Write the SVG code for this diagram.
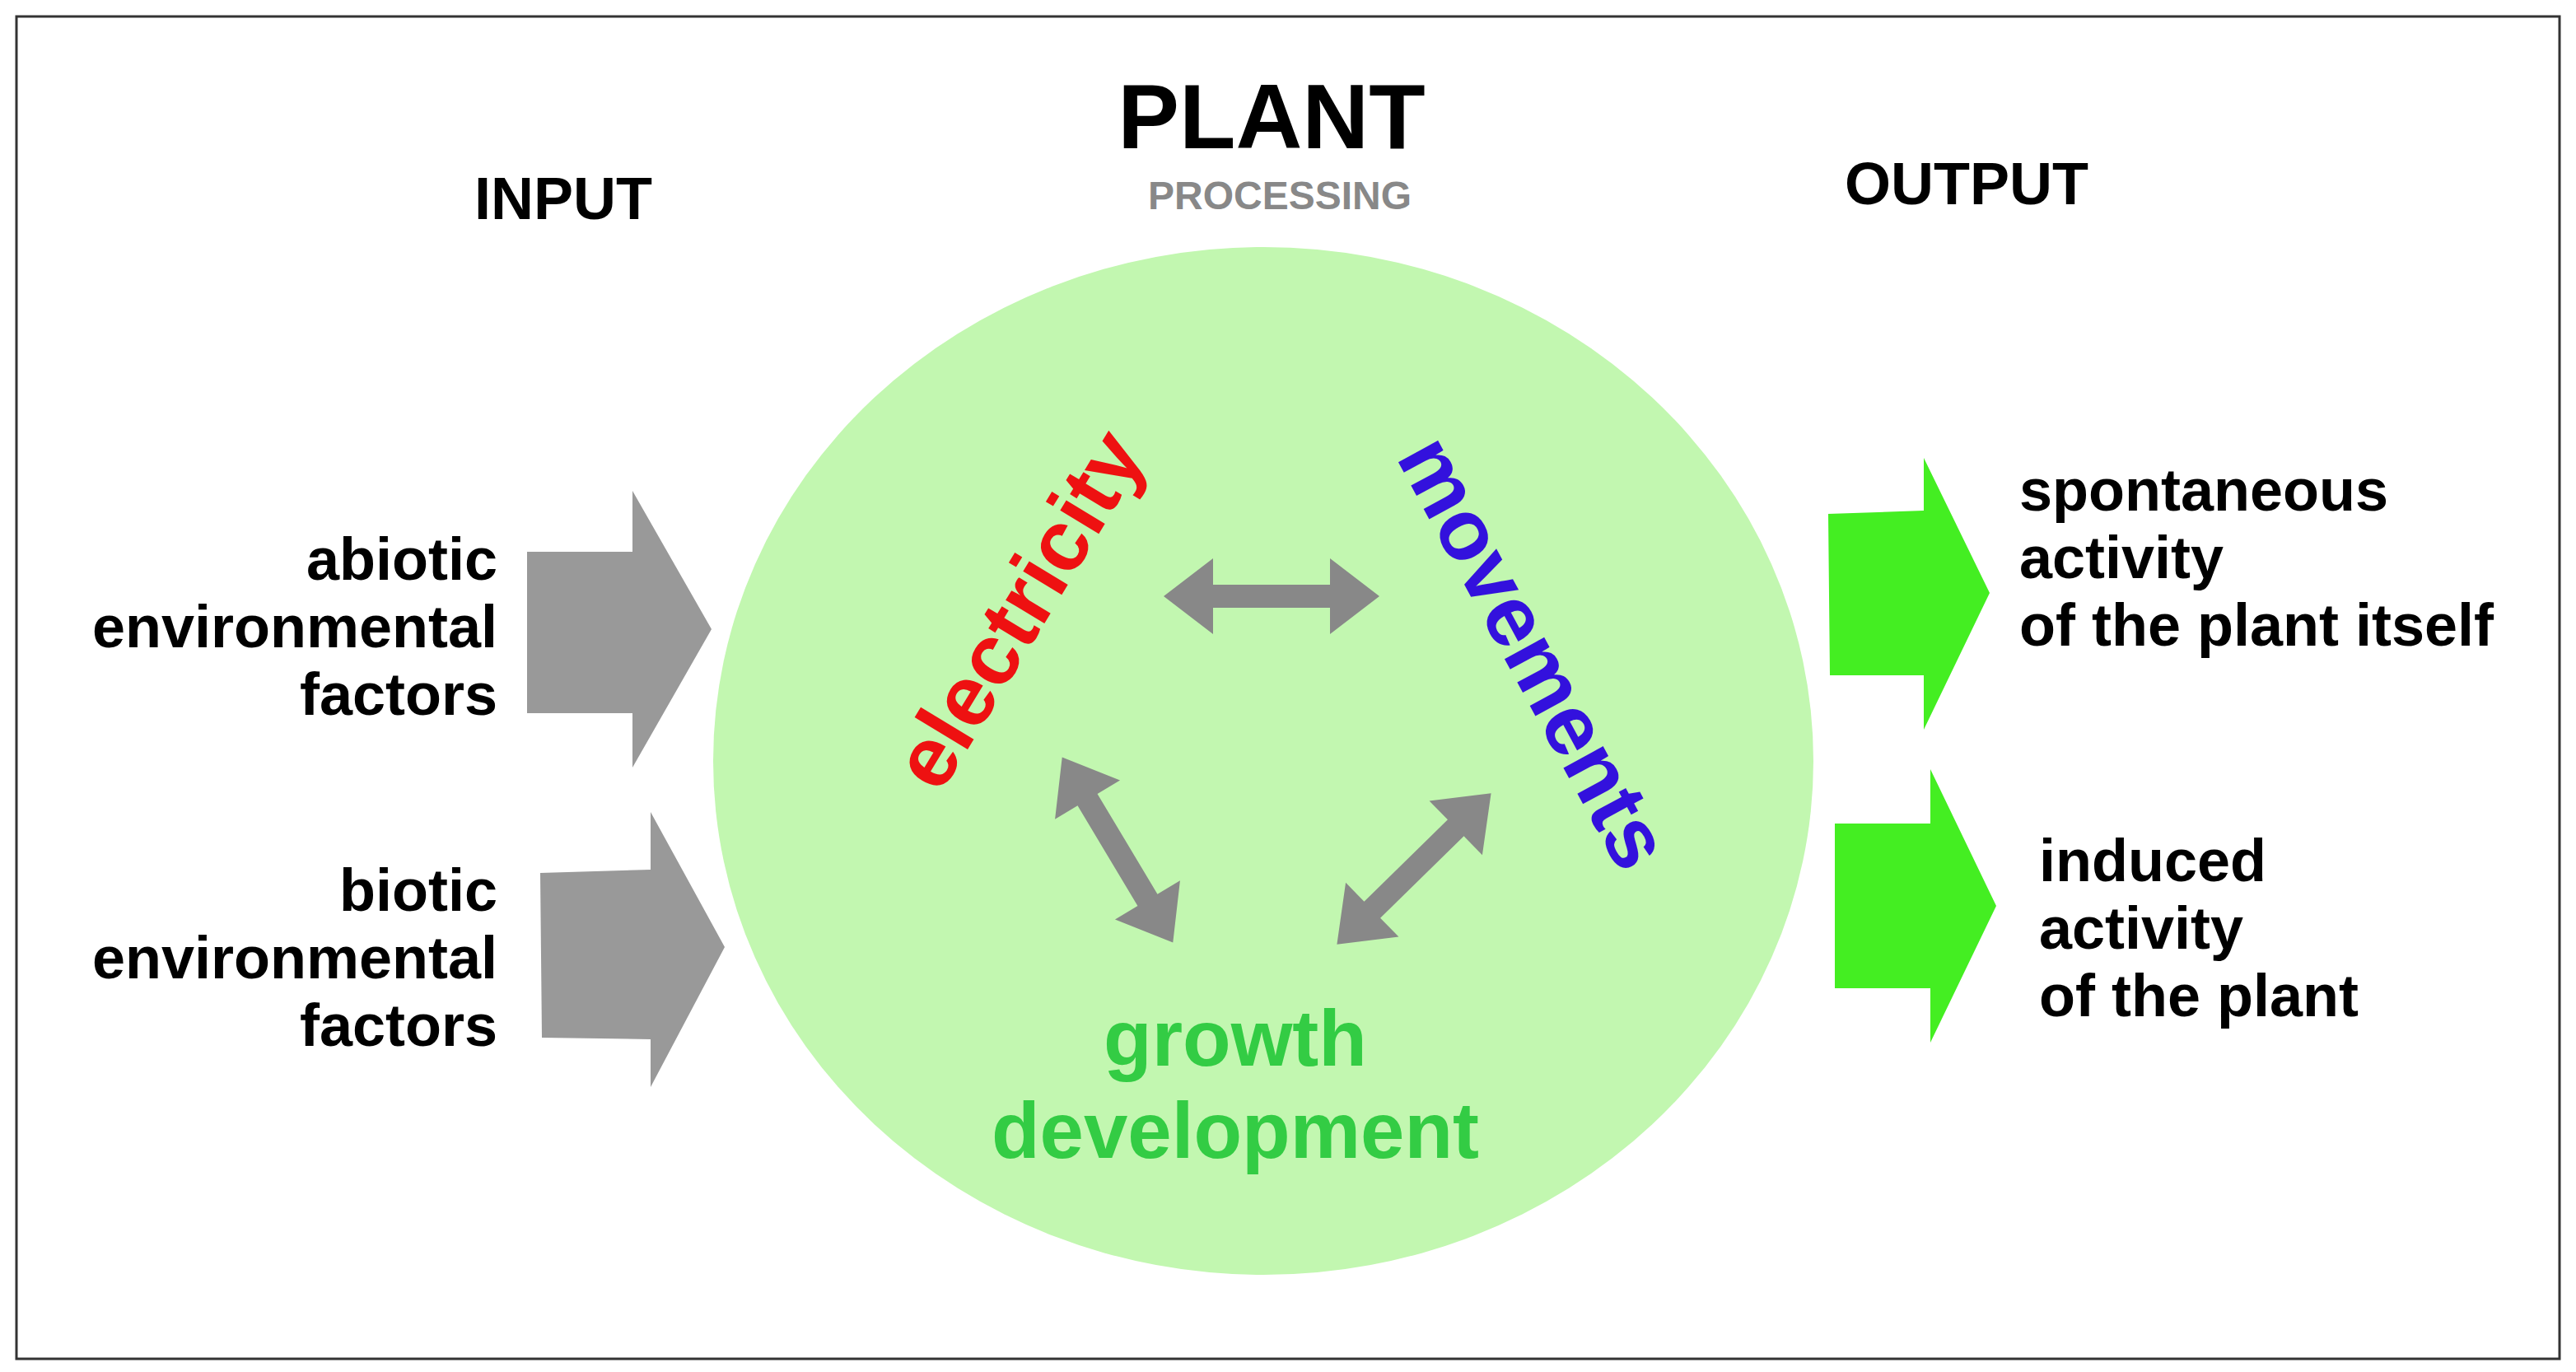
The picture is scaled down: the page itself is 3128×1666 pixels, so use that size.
<svg xmlns="http://www.w3.org/2000/svg" width="3128" height="1666" viewBox="0 0 3128 1666">
<style>
text{font-family:"Liberation Sans",Arial,sans-serif;font-weight:bold}
.lab{font-size:72px;fill:#000}
.gray{fill:#999}
.green{fill:#44ee22}
</style>
<defs>
<polygon id="dbl" fill="#888" points="-131,0 -71,-46 -71,-14 71,-14 71,-46 131,0 71,46 71,14 -71,14 -71,46"/>
</defs>
<rect width="3128" height="1666" fill="#fff"/>
<rect x="20" y="20" width="3088" height="1630" fill="none" stroke="#333" stroke-width="3"/>
<g id="titles">
<text x="1544" y="180" font-size="112" text-anchor="middle">PLANT</text>
<text x="1554" y="254" font-size="48" text-anchor="middle" fill="#888">PROCESSING</text>
<text x="684" y="266" class="lab" text-anchor="middle">INPUT</text>
<text x="2388" y="248" class="lab" text-anchor="middle">OUTPUT</text>
</g>
<g id="plant">
<ellipse cx="1534" cy="924" rx="668" ry="624" fill="#c2f7b0"/>
<text transform="translate(1244,744) rotate(-58.7)" font-size="104" fill="#ee1111" text-anchor="middle" dominant-baseline="middle">electricity</text>
<text transform="translate(1856,796) rotate(61.6)" font-size="104" fill="#3311dd" text-anchor="middle" dominant-baseline="middle">movements</text>
<text x="1500" y="1294" font-size="96" fill="#33cc44" text-anchor="middle">growth</text>
<text x="1500" y="1406" font-size="96" fill="#33cc44" text-anchor="middle">development</text>
</g>
<g id="connectors">
<use href="#dbl" transform="translate(1544,724)"/>
<use href="#dbl" transform="translate(1357,1032) rotate(59.1)"/>
<use href="#dbl" transform="translate(1717,1055) rotate(-44.4)"/>
</g>
<g id="input-abiotic">
<polygon class="gray" points="640,670 768,670 768,596 864,764 768,932 768,866 640,866"/>
<text class="lab" text-anchor="end" x="604" y="704">abiotic</text>
<text class="lab" text-anchor="end" x="604" y="786">environmental</text>
<text class="lab" text-anchor="end" x="604" y="868">factors</text>
</g>
<g id="input-biotic">
<polygon class="gray" points="656,1060 790,1056 790,986 880,1150 790,1320 790,1262 658,1260"/>
<text class="lab" text-anchor="end" x="604" y="1106">biotic</text>
<text class="lab" text-anchor="end" x="604" y="1188">environmental</text>
<text class="lab" text-anchor="end" x="604" y="1270">factors</text>
</g>
<g id="output-spontaneous">
<polygon class="green" points="2220,624 2336,620 2336,556 2416,720 2336,886 2336,820 2222,820"/>
<text class="lab" x="2452" y="620">spontaneous</text>
<text class="lab" x="2452" y="702">activity</text>
<text class="lab" x="2452" y="784">of the plant itself</text>
</g>
<g id="output-induced">
<polygon class="green" points="2228,1000 2344,1000 2344,934 2424,1100 2344,1266 2344,1200 2228,1200"/>
<text class="lab" x="2476" y="1070">induced</text>
<text class="lab" x="2476" y="1152">activity</text>
<text class="lab" x="2476" y="1234">of the plant</text>
</g>
</svg>
